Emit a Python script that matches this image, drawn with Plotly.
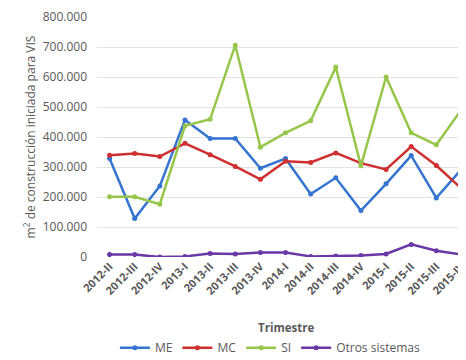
import plotly.graph_objects as go

trimestres = ["2012-II", "2012-III", "2012-IV", "2013-I", "2013-II", "2013-III", "2013-IV",
              "2014-I", "2014-II", "2014-III", "2014-IV", "2015-I", "2015-II", "2015-III", "2015-IV"]

me = [328000, 128000, 237000, 457000, 395000, 395000, 296000,
      328000, 210000, 264000, 155000, 244000, 338000, 197000, 293000]
mc = [339000, 345000, 335000, 379000, 341000, 302000, 259000,
      319000, 315000, 347000, 313000, 292000, 368000, 305000, 228000]
si = [201000, 201000, 176000, 437000, 459000, 706000, 366000,
      414000, 454000, 633000, 304000, 600000, 414000, 374000, 492000]
otros = [8000, 8000, 0, 2000, 12000, 10000, 15000,
         15000, 2000, 3000, 5000, 10000, 42000, 21000, 8000]

y_ticks = [0, 100000, 200000, 300000, 400000, 500000, 600000, 700000, 800000]

series = [
    ("ME", me, "#3574d0"),
    ("MC", mc, "#cf2f2f"),
    ("SI", si, "#96c64a"),
    ("Otros sistemas", otros, "#6a37a6"),
]

txt = "#595959"

fig = go.Figure()
for nom, vals, col in series:
    fig.add_trace(go.Scatter(
        x=trimestres, y=vals, name=nom, mode="lines+markers",
        line=dict(color=col, width=2.5),
        marker=dict(color=col, size=5),
    ))

# la page html ajoute 8px de marge au body -> figure un peu plus petite
fig.update_layout(
    width=458, height=352,
    separators=",.",
    paper_bgcolor="white", plot_bgcolor="white",
    font=dict(family="Open Sans, Liberation Sans, sans-serif", color=txt, size=12),
    margin=dict(l=89, r=0, t=9, b=103, autoexpand=False),
    showlegend=True,
    legend=dict(orientation="h", x=0.47, xanchor="center", y=-0.378, yanchor="middle",
                font=dict(size=12, color=txt), itemwidth=30, tracegroupgap=0),
    xaxis=dict(type="category", range=[-0.5, 14.18], showgrid=False, showline=False,
               automargin=False,
               tickangle=-45, tickfont=dict(size=11, color=txt, weight="bold"), ticks=""),
    yaxis=dict(range=[0, 800000], tickvals=y_ticks, tickformat=",d", automargin=False,
               gridcolor="#e3e3e3", gridwidth=1, zeroline=False, ticklabeloverflow="allow",
               tickfont=dict(size=12, color=txt), ticks="", ticklen=0, ticklabelstandoff=9,
               title=dict(text="m<sup>2</sup> de construcción iniciada para VIS",
                          font=dict(size=12, color=txt), standoff=4)),
    annotations=[dict(text="<b>Trimestre</b>", xref="paper", yref="paper",
                      x=0.511, y=-0.292, xanchor="center", yanchor="middle",
                      showarrow=False, font=dict(size=11.5, color=txt))],
)

fig.write_html("out.html")
